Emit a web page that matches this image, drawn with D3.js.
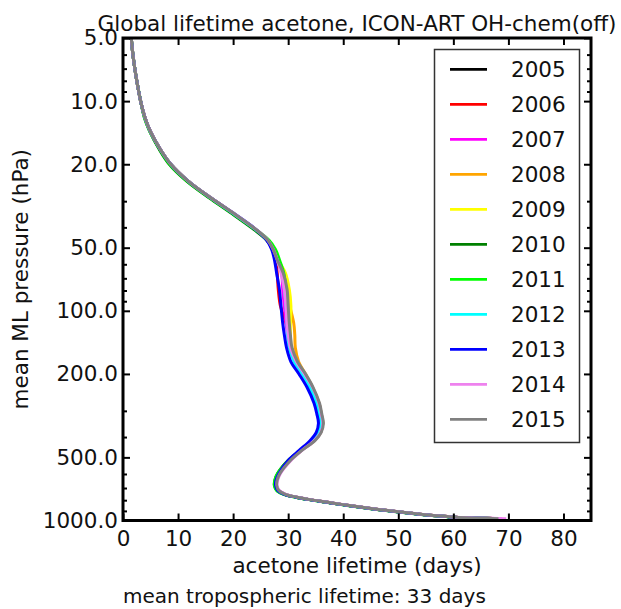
<!DOCTYPE html>
<html>
<head>
<meta charset="utf-8">
<script src="https://cdn.jsdelivr.net/npm/d3@7"></script>
<style>
  body { margin: 0; background: #fff; }
  svg { display: block; font-family: "DejaVu Sans", sans-serif; }
</style>
</head>
<body>
<div id="chart"></div>
<script>
// pressure levels (hPa) shared by every year
var pressure = [5, 6, 7, 8, 10, 12, 14, 17, 20, 24, 29, 34, 41, 46, 51, 57, 66, 79, 95, 114,
  130, 150, 175, 199, 231, 276, 310, 344, 380, 415, 463, 517, 596, 640, 680, 720, 750, 774, 795, 817,
  840, 863, 888, 912, 930, 946, 958, 966, 974, 980];

var years = ["2005", "2006", "2007", "2008", "2009", "2010", "2011", "2012", "2013", "2014", "2015"];
var colors = ["#000000", "#ff0000", "#ff00ff", "#ffa500", "#ffff00", "#008000", "#00ff00", "#00ffff", "#0000ff", "#ee82ee", "#808080"];

// acetone lifetime (days) per year
var life2005 = [1.5, 1.8, 2.15, 2.5, 3.2, 4.0, 5.0, 6.7, 8.6, 11.7, 15.9, 19.7, 24.0, 26.1, 27.2, 28.0, 28.9, 29.5, 29.8, 30.0,
  30.2, 30.5, 31.5, 32.9, 34.3, 35.5, 35.9, 36.2, 35.8, 34.7, 32.3, 30.2, 28.4, 27.9, 27.8, 28.2, 29.4, 31.5, 33.9, 36.9,
  39.9, 43.0, 46.7, 50.3, 53.4, 56.3, 58.9, 60.4, 64.4, 68.3];
var life2006 = [1.5, 1.8, 2.15, 2.5, 3.2, 4.0, 5.0, 6.8, 8.6, 11.7, 16.0, 19.8, 24.1, 26.2, 27.1, 27.7, 28.0, 28.2, 28.6, 29.6,
  30.1, 30.5, 31.5, 32.9, 34.3, 35.5, 35.9, 36.2, 35.8, 34.7, 32.3, 30.2, 28.4, 27.9, 27.8, 28.2, 29.4, 31.5, 33.9, 36.9,
  39.9, 43.0, 46.7, 50.3, 53.4, 56.3, 58.9, 60.4, 64.4, 68.4];
var life2007 = [1.5, 1.8, 2.15, 2.5, 3.2, 4.0, 5.0, 6.8, 8.7, 11.8, 16.0, 19.8, 24.1, 26.2, 27.2, 28.0, 28.8, 29.0, 29.3, 29.6,
  29.9, 30.4, 31.4, 32.8, 34.3, 35.5, 36.0, 36.2, 35.9, 34.8, 32.4, 30.3, 28.4, 27.9, 27.8, 28.2, 29.4, 31.5, 33.9, 36.9,
  39.9, 43.0, 46.7, 50.3, 53.4, 56.3, 58.9, 60.5, 64.6, 68.8];
var life2008 = [1.5, 1.8, 2.15, 2.5, 3.2, 4.0, 5.0, 6.8, 8.7, 11.8, 16.0, 19.8, 24.1, 26.2, 27.3, 28.0, 29.0, 29.7, 30.3, 31.0,
  31.2, 31.3, 31.9, 33.1, 34.4, 35.6, 36.0, 36.3, 35.9, 34.8, 32.4, 30.3, 28.4, 27.9, 27.8, 28.2, 29.4, 31.5, 33.9, 36.9,
  39.9, 43.0, 46.7, 50.3, 53.4, 56.3, 58.9, 60.4, 64.4, 68.3];
var life2009 = [1.5, 1.8, 2.15, 2.5, 3.2, 4.0, 5.0, 6.8, 8.7, 11.8, 16.0, 19.8, 24.1, 26.2, 27.3, 28.1, 29.5, 30.2, 30.5, 30.4,
  30.4, 30.6, 31.6, 33.0, 34.4, 35.6, 36.0, 36.3, 35.9, 34.8, 32.4, 30.3, 28.4, 27.9, 27.8, 28.2, 29.4, 31.5, 33.9, 36.9,
  39.9, 43.0, 46.7, 50.3, 53.4, 56.3, 58.9, 60.4, 64.4, 68.3];
var life2010 = [1.5, 1.8, 2.15, 2.5, 3.2, 3.9, 4.9, 6.6, 8.4, 11.5, 15.7, 19.5, 23.8, 26.1, 27.4, 28.1, 28.9, 29.4, 29.7, 29.9,
  30.1, 30.4, 31.4, 32.8, 34.2, 35.4, 35.8, 36.1, 35.7, 34.6, 32.2, 30.0, 28.1, 27.6, 27.5, 28.0, 29.2, 31.4, 33.8, 36.8,
  39.8, 42.9, 46.6, 50.2, 53.3, 56.2, 58.8, 60.3, 64.3, 68.2];
var life2011 = [1.5, 1.8, 2.15, 2.5, 3.2, 3.9, 4.9, 6.7, 8.5, 11.6, 15.8, 19.7, 24.1, 26.5, 27.7, 28.4, 29.2, 29.6, 29.8, 30.0,
  30.2, 30.5, 31.5, 32.9, 34.3, 35.5, 35.9, 36.2, 35.8, 34.7, 32.3, 30.1, 28.1, 27.6, 27.5, 27.9, 29.2, 31.3, 33.7, 36.6,
  39.6, 42.7, 46.4, 50.0, 53.1, 56.0, 58.6, 60.2, 64.2, 68.0];
var life2012 = [1.5, 1.8, 2.15, 2.5, 3.2, 4.0, 5.0, 6.8, 8.7, 11.8, 16.0, 19.8, 24.1, 26.2, 27.2, 28.0, 28.8, 29.3, 29.6, 29.8,
  29.9, 30.2, 31.1, 32.5, 33.9, 35.1, 35.6, 35.9, 35.5, 34.4, 32.2, 30.2, 28.4, 27.9, 27.8, 28.2, 29.4, 31.5, 33.9, 36.9,
  39.9, 43.0, 46.7, 50.3, 53.4, 56.3, 58.9, 60.4, 64.4, 68.3];
var life2013 = [1.5, 1.8, 2.15, 2.5, 3.2, 4.0, 5.0, 6.8, 8.7, 11.8, 16.0, 19.9, 24.2, 26.1, 27.0, 27.5, 27.9, 28.4, 28.7, 29.0,
  29.3, 29.7, 30.5, 31.9, 33.4, 34.7, 35.2, 35.5, 35.1, 34.0, 32.0, 30.0, 28.3, 27.8, 27.7, 28.1, 29.3, 31.4, 33.8, 36.8,
  39.8, 42.9, 46.6, 50.2, 53.3, 56.2, 58.8, 60.3, 64.3, 68.2];
var life2014 = [1.5, 1.8, 2.15, 2.5, 3.2, 4.0, 5.0, 6.8, 8.7, 11.8, 16.0, 19.9, 24.2, 26.3, 27.3, 28.0, 28.7, 29.3, 29.6, 29.8,
  30.0, 30.4, 31.5, 32.9, 34.4, 35.6, 36.0, 36.3, 35.9, 34.8, 32.5, 30.5, 28.6, 28.1, 28.0, 28.4, 29.6, 31.7, 34.1, 37.1,
  40.1, 43.2, 46.9, 50.5, 53.6, 56.5, 59.1, 60.7, 65.0, 69.6];
var life2015 = [1.5, 1.8, 2.15, 2.5, 3.2, 4.0, 5.0, 6.8, 8.7, 11.8, 16.0, 19.9, 24.2, 26.3, 27.3, 28.0, 29.1, 29.8, 30.0, 30.2,
  30.4, 30.7, 31.7, 33.1, 34.5, 35.7, 36.1, 36.4, 36.0, 34.9, 32.5, 30.4, 28.5, 28.0, 27.9, 28.3, 29.5, 31.6, 34.0, 37.0,
  40.0, 43.1, 46.8, 50.4, 53.5, 56.4, 59.0, 60.5, 64.5, 68.2];

var lifetimes = [life2005, life2006, life2007, life2008, life2009, life2010, life2011, life2012, life2013, life2014, life2015];

var yMajor = [5, 10, 20, 50, 100, 200, 500, 1000];
var yMinor = [6, 7, 8, 9, 30, 40, 60, 70, 80, 90, 300, 400, 600, 700, 800, 900];
var xTicks = [0, 10, 20, 30, 40, 50, 60, 70, 80];

var width = 621, height = 609;
var plotLeft = 123, plotRight = 591, plotTop = 38, plotBottom = 520.5;
var fontSize = "21.5px";
var ink = "#111";

var svg = d3.select("#chart").append("svg")
  .attr("width", width)
  .attr("height", height);

var x = d3.scaleLinear().domain([0, 85]).range([plotLeft, plotRight]);
var y = d3.scaleLog().domain([5, 1000]).range([plotTop, plotBottom]);

svg.append("clipPath").attr("id", "plotclip")
  .append("rect")
  .attr("x", plotLeft).attr("y", plotTop)
  .attr("width", plotRight - plotLeft).attr("height", plotBottom - plotTop);

// curves
var line = d3.line()
  .x(function(d) { return x(d[1]); })
  .y(function(d) { return y(d[0]); })
  .curve(d3.curveCatmullRom.alpha(0.5));

var curves = svg.append("g").attr("clip-path", "url(#plotclip)");
lifetimes.forEach(function(vals, i) {
  var pts = pressure.map(function(p, j) { return [p, vals[j]]; });
  curves.append("path")
    .datum(pts)
    .attr("d", line)
    .attr("fill", "none")
    .attr("stroke", colors[i])
    .attr("stroke-width", 3)
    .attr("stroke-linejoin", "round");
});

// axes, ticks pointing inward
function styleAxis(g) {
  g.select(".domain").remove();
  g.selectAll(".tick line").attr("stroke", "#000").attr("stroke-width", 2);
  g.selectAll(".tick text").attr("fill", ink).style("font-size", fontSize)
    .style("font-family", "DejaVu Sans");
}

svg.append("g")
  .attr("transform", "translate(0," + plotBottom + ")")
  .call(d3.axisBottom(x).tickValues(xTicks).tickSizeInner(-7).tickSizeOuter(0).tickPadding(10))
  .call(styleAxis);

svg.append("g")
  .attr("transform", "translate(0," + plotTop + ")")
  .call(d3.axisTop(x).tickValues(xTicks.slice(1)).tickSizeInner(-7).tickSizeOuter(0).tickFormat(""))
  .call(styleAxis);

svg.append("g")
  .attr("transform", "translate(" + plotLeft + ",0)")
  .call(d3.axisLeft(y).tickValues(yMajor).tickSizeInner(-7).tickSizeOuter(0).tickPadding(5)
    .tickFormat(function(d) { return d.toFixed(1); }))
  .call(styleAxis);

svg.append("g")
  .attr("transform", "translate(" + plotLeft + ",0)")
  .call(d3.axisLeft(y).tickValues(yMinor).tickSizeInner(-4).tickSizeOuter(0).tickFormat(""))
  .call(styleAxis);

svg.append("g")
  .attr("transform", "translate(" + plotRight + ",0)")
  .call(d3.axisRight(y).tickValues(yMajor).tickSizeInner(-7).tickSizeOuter(0).tickFormat(""))
  .call(styleAxis);

svg.append("g")
  .attr("transform", "translate(" + plotRight + ",0)")
  .call(d3.axisRight(y).tickValues(yMinor).tickSizeInner(-4).tickSizeOuter(0).tickFormat(""))
  .call(styleAxis);

// frame
svg.append("rect")
  .attr("x", plotLeft).attr("y", plotTop)
  .attr("width", plotRight - plotLeft).attr("height", plotBottom - plotTop)
  .attr("fill", "none")
  .attr("stroke", "#000")
  .attr("stroke-width", 3);

// legend
var legend = svg.append("g");
legend.append("rect")
  .attr("x", 434.5).attr("y", 49.5)
  .attr("width", 145).attr("height", 393)
  .attr("fill", "#fff")
  .attr("stroke", "#333")
  .attr("stroke-width", 1.5);

var entry = legend.selectAll("g.entry")
  .data(years)
  .enter()
  .append("g")
  .attr("class", "entry")
  .attr("transform", function(d, i) { return "translate(0," + (69.3 + i * 35) + ")"; });

entry.append("line")
  .attr("x1", 450).attr("x2", 487)
  .attr("stroke", function(d, i) { return colors[i]; })
  .attr("stroke-width", 2.8);

entry.append("text")
  .attr("x", 511)
  .attr("dy", "0.36em")
  .attr("fill", ink)
  .style("font-size", fontSize)
  .text(function(d) { return d; });

// texts
svg.append("text")
  .attr("x", (plotLeft + plotRight) / 2).attr("y", 31)
  .attr("text-anchor", "middle")
  .attr("fill", ink)
  .style("font-size", fontSize)
  .text("Global lifetime acetone, ICON-ART OH-chem(off)");

svg.append("text")
  .attr("x", (plotLeft + plotRight) / 2).attr("y", 573)
  .attr("text-anchor", "middle")
  .attr("fill", ink)
  .style("font-size", fontSize)
  .text("acetone lifetime (days)");

svg.append("text")
  .attr("transform", "translate(28," + (plotTop + plotBottom) / 2 + ") rotate(-90)")
  .attr("text-anchor", "middle")
  .attr("fill", ink)
  .style("font-size", fontSize)
  .text("mean ML pressure (hPa)");

svg.append("text")
  .attr("x", 123).attr("y", 603)
  .attr("fill", ink)
  .style("font-size", "20px")
  .text("mean tropospheric lifetime: 33 days");
</script>
</body>
</html>
